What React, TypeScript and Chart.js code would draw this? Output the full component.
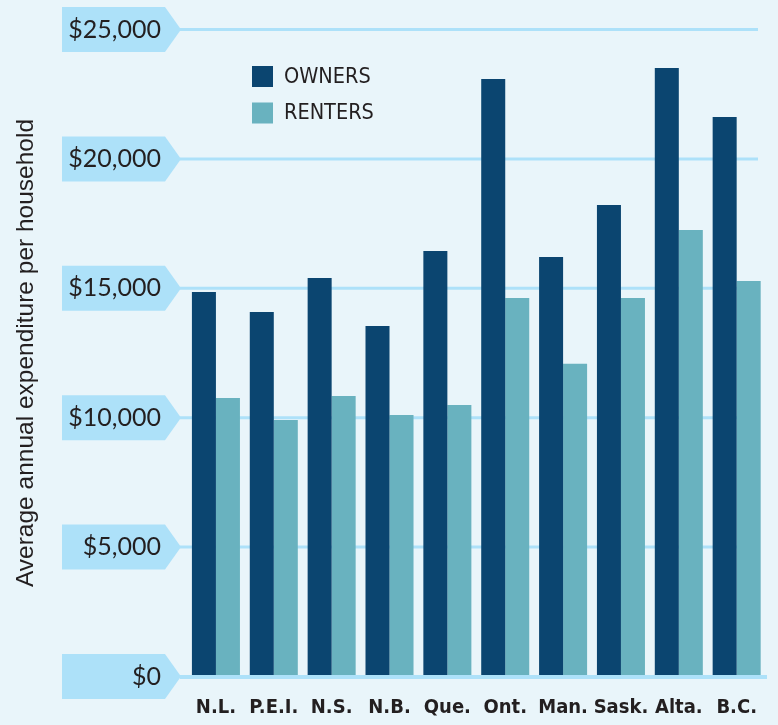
import React, { useEffect, useRef } from "react";
import { Chart, registerables } from "chart.js";

Chart.register(...registerables);

const provinces = ["N.L.", "P.E.I.", "N.S.", "N.B.", "Que.", "Ont.", "Man.", "Sask.", "Alta.", "B.C."];
const owners = [14860, 14080, 15400, 13540, 16440, 23090, 16210, 18220, 23510, 21620];
const renters = [10760, 9910, 10840, 10100, 10490, 14630, 12080, 14630, 17250, 15280];
const yTicks = [0, 5000, 10000, 15000, 20000, 25000];
const seriesLabels = ["OWNERS", "RENTERS"];
const axisTitle = "Average annual expenditure per household";

const BG = "#e9f5fa";
const BOX = "#ade1f9";
const OWNER = "#0b4570";
const RENTER = "#69b2bf";
const TEXT = "#231f20";
const CONDENSED = "'Liberation Sans Narrow', 'DejaVu Sans Condensed', sans-serif";

const fmt = (v: number) => "$" + v.toLocaleString("en-US");

const decor = {
  id: "decor",
  beforeDraw(chart: any) {
    const { ctx, scales } = chart;
    const y = scales.y;
    ctx.save();
    ctx.fillStyle = BG;
    ctx.fillRect(0, 0, chart.width, chart.height);
    ctx.fillStyle = BOX;
    yTicks.forEach((v) => {
      const py = y.getPixelForValue(v);
      ctx.beginPath();
      ctx.moveTo(62, py - 22.5);
      ctx.lineTo(165, py - 22.5);
      ctx.lineTo(181, py);
      ctx.lineTo(165, py + 22.5);
      ctx.lineTo(62, py + 22.5);
      ctx.closePath();
      ctx.fill();
    });
    ctx.restore();
  },
  beforeDatasetsDraw(chart: any) {
    const { ctx, scales } = chart;
    const y = scales.y;
    ctx.save();
    ctx.strokeStyle = BOX;
    ctx.lineWidth = 3;
    yTicks.forEach((v) => {
      if (v === 0) return;
      const py = y.getPixelForValue(v);
      ctx.beginPath();
      ctx.moveTo(180, py);
      ctx.lineTo(758, py);
      ctx.stroke();
    });
    ctx.restore();
  },
  afterDatasetsDraw(chart: any) {
    const { ctx, scales } = chart;
    const py = scales.y.getPixelForValue(0);
    ctx.save();
    ctx.strokeStyle = BOX;
    ctx.lineWidth = 4;
    ctx.beginPath();
    ctx.moveTo(180, py + 0.5);
    ctx.lineTo(767, py + 0.5);
    ctx.stroke();
    ctx.restore();
  },
  afterDraw(chart: any) {
    const { ctx } = chart;
    ctx.save();
    chart.data.datasets.forEach((ds: any, i: number) => {
      const top = i === 0 ? 66 : 102.5;
      ctx.fillStyle = ds.backgroundColor;
      ctx.fillRect(252, top, 21, 21);
      ctx.fillStyle = TEXT;
      ctx.font = `21.5px ${CONDENSED}`;
      ctx.textBaseline = "middle";
      ctx.textAlign = "left";
      ctx.fillText(ds.label, 284, top + 11);
    });
    ctx.restore();
  },
};

export default function App() {
  const ref = useRef<HTMLCanvasElement | null>(null);
  useEffect(() => {
    document.body.style.margin = "0";
    document.body.style.background = BG;
    const canvas = ref.current!;
    const chart = new Chart(canvas, {
      type: "bar",
      data: {
        labels: provinces,
        datasets: [
          { label: seriesLabels[0], data: owners, backgroundColor: OWNER, borderWidth: 0 },
          { label: seriesLabels[1], data: renters, backgroundColor: RENTER, borderWidth: 0 },
        ],
      },
      options: {
        responsive: false,
        animation: false,
        layout: { padding: { top: 29.5, right: 12.4, left: 0, bottom: 0 } },
        datasets: { bar: { barPercentage: 1, categoryPercentage: 0.83 } },
        plugins: { legend: { display: false }, tooltip: { enabled: false } },
        scales: {
          x: {
            grid: { display: false, drawTicks: false },
            border: { display: false },
            ticks: {
              color: TEXT,
              padding: 19,
              maxRotation: 0,
              minRotation: 0,
              autoSkip: false,
              font: { family: CONDENSED, size: 20, weight: "bold" },
            },
            afterFit: (s: any) => {
              s.height = 48.5;
              s.paddingLeft = 0;
              s.paddingRight = 0;
            },
          },
          y: {
            min: 0,
            max: 25000,
            grid: { display: false, drawTicks: false },
            border: { display: false },
            afterBuildTicks: (s: any) => {
              s.ticks = yTicks.map((v) => ({ value: v }));
            },
            ticks: {
              color: TEXT,
              padding: 26,
              font: { family: "Lato", size: 25 },
              callback: (v: any) => fmt(Number(v)),
            },
            title: {
              display: true,
              text: axisTitle,
              color: TEXT,
              font: { family: "'Liberation Sans', Arial, sans-serif", size: 24.5 },
              padding: { top: 12, bottom: 0 },
            },
            afterFit: (s: any) => {
              s.width = 187;
              s.paddingTop = 0;
              s.paddingBottom = 0;
            },
          },
        },
      },
      plugins: [decor],
    });
    return () => chart.destroy();
  }, []);
  return (
    <div style={{ width: 778, height: 725, background: BG }}>
      <canvas ref={ref} width={778} height={725} style={{ display: "block" }} />
    </div>
  );
}
